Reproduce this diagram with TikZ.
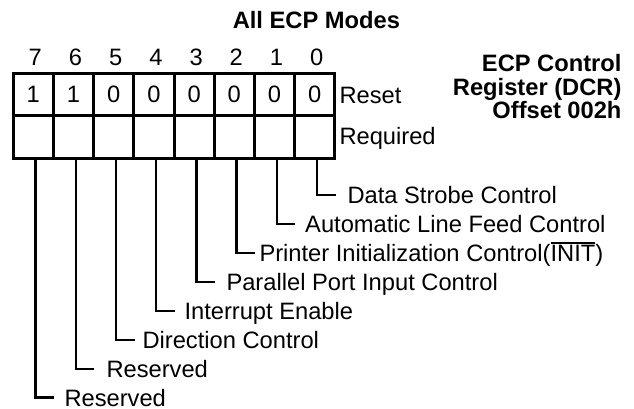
\documentclass[tikz,border=0pt]{standalone}
\usepackage{fontspec}
\setmainfont{Liberation Sans}
\newcommand\mybarline[1]{\vbox{\hrule height 1.8pt\kern 1.6pt\hbox{#1}}}
\begin{document}
\begin{tikzpicture}[x=1pt,y=-1pt,
  txt/.style={inner sep=0pt, font=\fontsize{23.7}{23.7}\selectfont},
  btxt/.style={inner sep=0pt, font=\fontsize{23.7}{23.7}\selectfont\bfseries},
  cell/.style={draw, line width=3pt, minimum width=40.2pt, minimum height=42.5pt, inner sep=0pt, anchor=north west, font=\fontsize{23.7}{23.7}\selectfont},
  leader/.style={line width=2.3pt}]
\useasboundingbox (0,0) rectangle (634,409);
\node[btxt, anchor=base] (title) at (316.4,29) {All ECP Modes};
\node[btxt, anchor=north east, align=right] (regname) at (621.7,54)
  {ECP Control\\Register (DCR)\\Offset 002h};
% register cells
\foreach \b/\v in {7/1,6/1,5/0,4/0,3/0,2/0,1/0,0/0}{
  \node[cell] (r\b) at ({11.7+40.2*(7-\b)},71.7) {\v};
  \node[cell] (q\b) at ({11.7+40.2*(7-\b)},114.2) {};
  \node[txt, anchor=base] (n\b) at ({31.8+40.2*(7-\b)+3.5},66) {\b};
}
\node[txt, anchor=base west] (reset) at (339.3,103) {Reset};
\node[txt, anchor=base west] (req) at (339.3,144) {Required};
% bit descriptions
\node[txt, anchor=base west] (d0) at (347.3,203.5) {Data Strobe Control};
\node[txt, anchor=base west] (d1) at (305,232.5) {Automatic Line Feed Control};
\node[txt, anchor=base west] (d2) at (259.3,261.5) {Printer Initialization Control(\mybarline{INIT})};
\node[txt, anchor=base west] (d3) at (226.3,290.5) {Parallel Port Input Control};
\node[txt, anchor=base west] (d4) at (184.3,319.5) {Interrupt Enable};
\node[txt, anchor=base west] (d5) at (142.3,348.5) {Direction Control};
\node[txt, anchor=base west] (d6) at (106.3,377.5) {Reserved};
\node[txt, anchor=base west] (d7) at (64.3,406) {Reserved};
% leaders
\foreach \b/\ey in {0/195,1/224,2/253,3/282,4/311,5/340,6/369,7/397.5}{
  \coordinate (e\b) at ({11.7+40.2*(7-\b)+20.1+2.3+20},\ey);
  \draw[leader] ([xshift=2.3pt]q\b.south) |- (e\b);
}
\end{tikzpicture}
\end{document}
